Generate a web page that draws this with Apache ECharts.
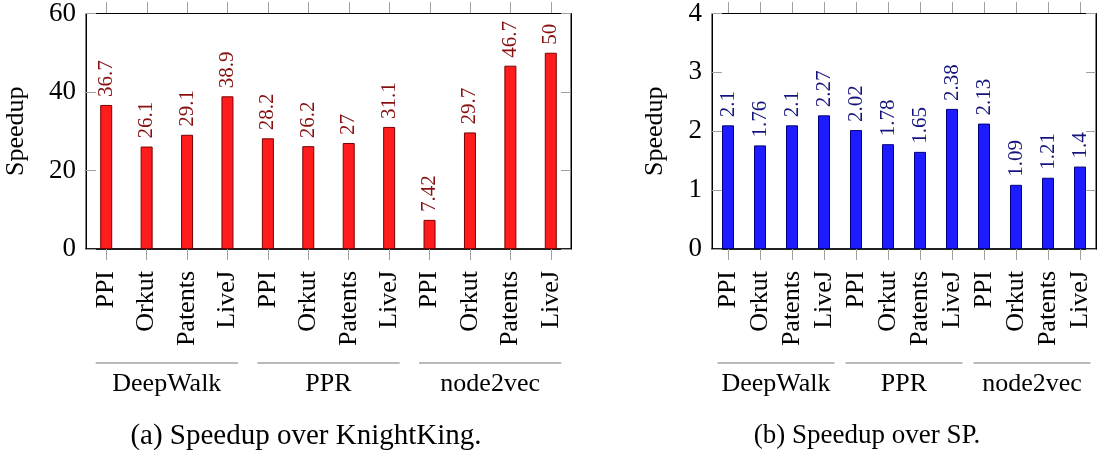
<!DOCTYPE html>
<html><head><meta charset="utf-8">
<script src="https://cdn.jsdelivr.net/npm/echarts@6/dist/echarts.min.js"></script>
<style>html,body{margin:0;padding:0;background:#fff}#c{width:1100px;height:450px}</style>
</head><body><div id="c"></div>
<script>
const categories = ['PPI','Orkut','Patents','LiveJ','PPI','Orkut','Patents','LiveJ','PPI','Orkut','Patents','LiveJ'];
const groups = ['DeepWalk','PPR','node2vec'];
const groupSize = 4;
const speedupKnightKing = [36.7,26.1,29.1,38.9,28.2,26.2,27,31.1,7.42,29.7,46.7,50];
const speedupSP = [2.1,1.76,2.1,2.27,2.02,1.78,1.65,2.38,2.13,1.09,1.21,1.4];
const yRangeA = {min:0, max:60, interval:20};
const yRangeB = {min:0, max:4, interval:1};
const yName = 'Speedup';
const captions = ['(a) Speedup over KnightKing.','(b) Speedup over SP.'];

const FONT = 'Liberation Serif';
const tickColor = '#a0a0a0';
const GRID_TOP = 13;

function xAx(gi) {
  return {
    type:'category', gridIndex: gi, position: 'bottom', data: categories, boundaryGap: true,
    axisLine: {show: true, lineStyle: {color:'#000', width: 1.5}},
    axisTick: {show: true, alignWithLabel: true, interval: 0, length: 11, inside: false, lineStyle: {color: tickColor, width: 1}},
    axisLabel: {show: true, interval: 0, rotate: 90, margin: 22, fontFamily: FONT, fontSize: 26, color: '#000'},
    splitLine: {show:false}
  };
}
function yAx(gi, pos, rng, nameGap) {
  const left = pos === 'left';
  return Object.assign({
    type:'value', gridIndex: gi, position: pos,
    axisLine: {show:true, lineStyle:{color:'#000', width:1}},
    axisTick: {show:true, inside:true, length:10, lineStyle:{color: tickColor}},
    axisLabel: {show:left, margin: 10, fontFamily: FONT, fontSize: 27, color:'#000'},
    splitLine: {show:false},
    name: left ? yName : '', nameLocation:'middle', nameGap: nameGap,
    nameTextStyle: {fontFamily: FONT, fontSize: 26, color:'#000'}
  }, rng);
}
function barSeries(data, xi, yi, fill, border, labelColor) {
  return {
    type:'bar', xAxisIndex: xi, yAxisIndex: yi, data: data, barWidth: 12,
    itemStyle: {color: fill, borderColor: border, borderWidth: 1},
    label: {show:true, position:'top', rotate:90, align:'left', verticalAlign:'middle', distance: 8,
      color: labelColor, fontFamily: FONT, fontSize: 21},
    silent: true
  };
}

const chart = echarts.init(document.getElementById('c'), null, {renderer:'canvas'});
chart.setOption({
  animation: false,
  backgroundColor: '#fff',
  grid: [
    {left: 86, top: GRID_TOP, width: 485, height: 236, show: true, borderColor:'#000', borderWidth: 1, containLabel:false},
    {left: 712, top: GRID_TOP, width: 384, height: 236, show: true, borderColor:'#000', borderWidth: 1, containLabel:false}
  ],
  xAxis: [xAx(0), xAx(1)],
  yAxis: [yAx(0,'left',yRangeA,57), yAx(0,'right',yRangeA,0), yAx(1,'left',yRangeB,44), yAx(1,'right',yRangeB,0)],
  series: [
    barSeries(speedupKnightKing, 0, 0, '#ff1c1c', '#7a0000', '#861010'),
    barSeries(speedupSP, 1, 2, '#1c1cff', '#00007a', '#14147e')
  ]
});

const graphics = [];
[0, 1].forEach((xi) => {
  categories.forEach((c, i) => {
    const x = Math.round(chart.convertToPixel({xAxisIndex: xi}, i)) + 0.5;
    graphics.push({type:'line', silent:true, z:10, shape:{x1:x, y1:GRID_TOP, x2:x, y2:GRID_TOP-11}, style:{stroke:tickColor, lineWidth:1}});
  });
  groups.forEach((g, k) => {
    const a = chart.convertToPixel({xAxisIndex: xi}, k * groupSize);
    const b = chart.convertToPixel({xAxisIndex: xi}, k * groupSize + groupSize - 1);
    graphics.push({type:'line', silent:true, shape:{x1:a-10.5, y1:363, x2:b+10.5, y2:363}, style:{stroke:'#777', lineWidth:1.2}});
    graphics.push({type:'text', silent:true, x:(a+b)/2, y:384, style:{text:g, fontFamily:FONT, fontSize:26, fill:'#000', align:'center', verticalAlign:'middle'}});
  });
});
const capX = [306, 867];
const capSize = [29, 27];
captions.forEach((c, i) => {
  graphics.push({type:'text', silent:true, x:capX[i], y:436, style:{text:c, fontFamily:FONT, fontSize:capSize[i], fill:'#000', align:'center', verticalAlign:'middle'}});
});
chart.setOption({graphic: graphics});
</script>
</body></html>
